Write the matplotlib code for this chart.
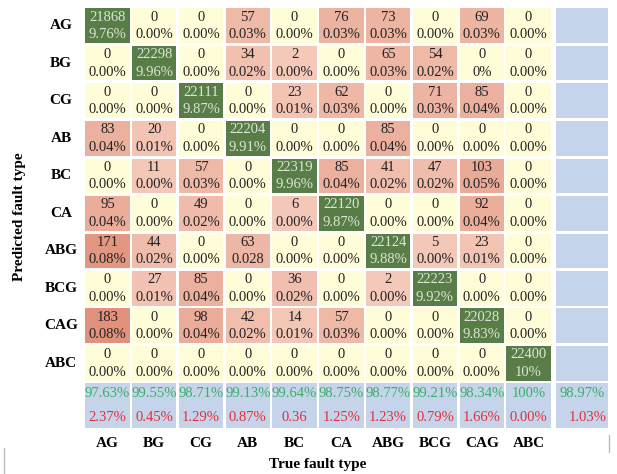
import numpy as np
import matplotlib.pyplot as plt
from matplotlib.patches import Rectangle
from matplotlib.lines import Line2D

plt.rcParams['font.family'] = ['Liberation Serif', 'DejaVu Serif']

labels = ['AG', 'BG', 'CG', 'AB', 'BC', 'CA', 'ABG', 'BCG', 'CAG', 'ABC']

# rows = predicted class, columns = true class
counts = [
    [21868, 0, 0, 57, 0, 76, 73, 0, 69, 0],
    [0, 22298, 0, 34, 2, 0, 65, 54, 0, 0],
    [0, 0, 22111, 0, 23, 62, 0, 71, 85, 0],
    [83, 20, 0, 22204, 0, 0, 85, 0, 0, 0],
    [0, 11, 57, 0, 22319, 85, 41, 47, 103, 0],
    [95, 0, 49, 0, 6, 22120, 0, 0, 92, 0],
    [171, 44, 0, 63, 0, 0, 22124, 5, 23, 0],
    [0, 27, 85, 0, 36, 0, 2, 22223, 0, 0],
    [183, 0, 98, 42, 14, 57, 0, 0, 22028, 0],
    [0, 0, 0, 0, 0, 0, 0, 0, 0, 22400],
]

pct_text = [
    ['9.76%', '0.00%', '0.00%', '0.03%', '0.00%', '0.03%', '0.03%', '0.00%', '0.03%', '0.00%'],
    ['0.00%', '9.96%', '0.00%', '0.02%', '0.00%', '0.00%', '0.03%', '0.02%', '0%', '0.00%'],
    ['0.00%', '0.00%', '9.87%', '0.00%', '0.01%', '0.03%', '0.00%', '0.03%', '0.04%', '0.00%'],
    ['0.04%', '0.01%', '0.00%', '9.91%', '0.00%', '0.00%', '0.04%', '0.00%', '0.00%', '0.00%'],
    ['0.00%', '0.00%', '0.03%', '0.00%', '9.96%', '0.04%', '0.02%', '0.02%', '0.05%', '0.00%'],
    ['0.04%', '0.00%', '0.02%', '0.00%', '0.00%', '9.87%', '0.00%', '0.00%', '0.04%', '0.00%'],
    ['0.08%', '0.02%', '0.00%', '0.028', '0.00%', '0.00%', '9.88%', '0.00%', '0.01%', '0.00%'],
    ['0.00%', '0.01%', '0.04%', '0.00%', '0.02%', '0.00%', '0.00%', '9.92%', '0.00%', '0.00%'],
    ['0.08%', '0.00%', '0.04%', '0.02%', '0.01%', '0.03%', '0.00%', '0.00%', '9.83%', '0.00%'],
    ['0.00%'] * 9 + ['10%'],
]

# per-class accuracy / error, last entry is the overall figure
acc_text = ['97.63%', '99.55%', '98.71%', '99.13%', '99.64%', '98.75%', '98.77%',
            '99.21%', '98.34%', '100%', '98.97%']
err_text = ['2.37%', '0.45%', '1.29%', '0.87%', '0.36', '1.25%', '1.23%',
            '0.79%', '1.66%', '0.00%', '1.03%']

counts = np.array(counts)
n = len(labels)

# colours
green = '#587d46'
yellow = '#fffdd7'
blue = '#c6d4eb'
pink_lo = np.array([245, 202, 187]) / 255
pink_hi = np.array([226, 146, 124]) / 255
off_max = counts[~np.eye(n, dtype=bool)].max()

fig = plt.figure(figsize=(6.17, 4.74), dpi=100)
W, H = 617, 474
left, right, top, bottom = 84, 608, 7, 428
ax = fig.add_axes([left / W, 1 - bottom / H, (right - left) / W, (bottom - top) / H])

col_w = 46.8
row_h = 37.5
xmax = (right - left) / col_w
ymax = (bottom - top) / row_h
ax.set_xlim(0, xmax)
ax.set_ylim(ymax, 0)
ax.axis('off')

gx, gy = 0.05, 0.08
sum_x0 = (556 - left) / col_w
sum_y0 = (383 - top) / row_h
fs = 10.5

for r in range(n):
    for c in range(n):
        v = counts[r, c]
        if r == c:
            fc, tc = green, '#dde6d6'
        elif v == 0:
            fc, tc = yellow, '#222222'
        else:
            t = v / off_max
            fc, tc = pink_lo + (pink_hi - pink_lo) * t, '#222222'
        ax.add_patch(Rectangle((c + gx / 2, r + gy / 2), 1 - gx, 1 - gy,
                               facecolor=fc, edgecolor='none'))
        ax.text(c + 0.5, r + 0.27, str(v), ha='center', va='center',
                fontsize=fs, color=tc)
        ax.text(c + 0.5, r + 0.74, pct_text[r][c], ha='center', va='center',
                fontsize=fs, color=tc)
    # empty blue cell at the end of every row
    ax.add_patch(Rectangle((sum_x0, r + gy / 2), xmax - sum_x0, 1 - gy,
                           facecolor=blue, edgecolor='none'))

# summary row
for c in range(n + 1):
    if c < n:
        x0, w = c + gx / 2, 1 - gx
    else:
        x0, w = sum_x0, xmax - sum_x0
    ax.add_patch(Rectangle((x0, sum_y0), w, ymax - sum_y0,
                           facecolor=blue, edgecolor='none'))
    xc = x0 + w / 2
    ax.text(xc, sum_y0 + 0.27, acc_text[c], ha='center', va='center',
            fontsize=fs, color='#35b064')
    ax.text(xc + (0.12 if c == n else 0), sum_y0 + 0.93, err_text[c],
            ha='center', va='center', fontsize=fs, color='#e0303a')

# axis labels
for i, lab in enumerate(labels):
    ax.text(-0.49, i + 0.5, lab, ha='center', va='center', fontsize=11,
            fontweight='bold', clip_on=False)
    ax.text(i + 0.5, (443 - top) / row_h, lab, ha='center', va='center',
            fontsize=11, fontweight='bold', clip_on=False)

ax.text(-1.37, (217 - top) / row_h, 'Predicted fault type', rotation=90,
        ha='center', va='center', fontsize=11, fontweight='bold', clip_on=False)
ax.text(5.0, (464 - top) / row_h, 'True fault type', ha='center', va='center',
        fontsize=11, fontweight='bold', clip_on=False)

# thin separators at the bottom edges
fig.add_artist(Line2D([4 / W, 4 / W], [0, 1 - 448 / H], color='#bbbbbb', lw=1))
fig.add_artist(Line2D([609 / W, 609 / W], [1 - 452 / H, 1 - 435 / H],
                      color='#bbbbbb', lw=1))

fig.savefig('out.png', dpi=100)
